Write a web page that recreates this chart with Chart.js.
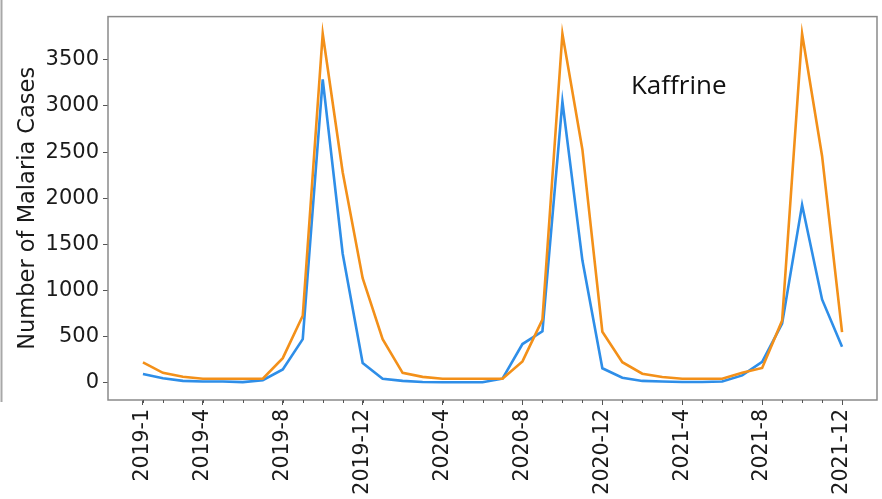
<!DOCTYPE html>
<html>
<head>
<meta charset="utf-8">
<title>Kaffrine malaria cases</title>
<script src="https://cdn.jsdelivr.net/npm/chart.js@4/dist/chart.umd.min.js"></script>
<style>
    html, body { margin: 0; padding: 0; background: #fff; }
    #wrap { position: relative; width: 882px; height: 499px; }
</style>
</head>
<body>
<div id="wrap"><canvas id="casesChart"></canvas></div>
<script>
// Monthly periods, Jan 2019 - Dec 2021
const months = [
    '2019-1', '2019-2', '2019-3', '2019-4', '2019-5', '2019-6',
    '2019-7', '2019-8', '2019-9', '2019-10', '2019-11', '2019-12',
    '2020-1', '2020-2', '2020-3', '2020-4', '2020-5', '2020-6',
    '2020-7', '2020-8', '2020-9', '2020-10', '2020-11', '2020-12',
    '2021-1', '2021-2', '2021-3', '2021-4', '2021-5', '2021-6',
    '2021-7', '2021-8', '2021-9', '2021-10', '2021-11', '2021-12'
];

// Case counts per month
const blueCases = [
    92, 46, 18, 11, 11, 5, 25, 142, 471, 3288, 1397, 212,
    42, 18, 7, 4, 3, 3, 42, 418, 556, 3048, 1326, 155,
    53, 18, 11, 7, 7, 11, 78, 225, 640, 1927, 902, 389
];
const orangeCases = [
    219, 106, 64, 42, 42, 42, 42, 265, 725, 3783, 2281, 1132,
    471, 106, 62, 42, 42, 42, 42, 230, 683, 3783, 2528, 552,
    221, 96, 60, 42, 42, 42, 106, 159, 672, 3783, 2458, 548
];

// Labelled month positions and y ticks
const xTickIndex = [0, 3, 7, 11, 15, 19, 23, 27, 31, 35];
const yTicks = [0, 500, 1000, 1500, 2000, 2500, 3000, 3500];

const FONT = 'DejaVu Sans';
const TEXT_COLOR = '#1a1a1a';
const SPINE_COLOR = '#8a8a8a';

document.addEventListener('DOMContentLoaded', () => {
    createCasesChart();
});

function toPoints(values) {
    return values.map((v, i) => ({ x: i, y: v }));
}

// Axes box, minor month ticks, region label and the page edge line
const framePlugin = {
    id: 'frame',
    afterDatasetsDraw(chart) {
        const { ctx, chartArea: a, scales } = chart;
        ctx.save();

        ctx.strokeStyle = SPINE_COLOR;
        ctx.lineWidth = 1.5;
        ctx.strokeRect(a.left, a.top, a.right - a.left, a.bottom - a.top);

        // minor ticks on every month
        ctx.lineWidth = 1;
        ctx.strokeStyle = '#555';
        months.forEach((m, i) => {
            const x = Math.round(scales.x.getPixelForValue(i)) + 0.5;
            ctx.beginPath();
            ctx.moveTo(x, a.bottom);
            ctx.lineTo(x, a.bottom + 3);
            ctx.stroke();
        });

        ctx.fillStyle = '#111';
        ctx.font = '26px "Open Sans"';
        ctx.textAlign = 'left';
        ctx.textBaseline = 'alphabetic';
        ctx.fillText('Kaffrine', scales.x.getPixelForValue(24.43), scales.y.getPixelForValue(3126));

        ctx.strokeStyle = '#a8a8a8';
        ctx.lineWidth = 2;
        ctx.beginPath();
        ctx.moveTo(1.5, 0);
        ctx.lineTo(1.5, 402);
        ctx.stroke();

        ctx.restore();
    }
};

function createCasesChart() {
    const ctx = document.getElementById('casesChart')?.getContext('2d');
    if (!ctx) return;

    new Chart(ctx, {
        type: 'line',
        data: {
            datasets: [
                {
                    data: toPoints(orangeCases),
                    borderColor: '#f39019',
                    borderWidth: 2.6,
                    pointRadius: 0,
                    tension: 0,
                    fill: false
                },
                {
                    data: toPoints(blueCases),
                    borderColor: '#2e8ee8',
                    borderWidth: 2.6,
                    pointRadius: 0,
                    tension: 0,
                    fill: false
                }
            ]
        },
        options: {
            responsive: true,
            maintainAspectRatio: false,
            animation: false,
            layout: {
                padding: { top: 8, right: 5, left: 0, bottom: 0 }
            },
            plugins: {
                legend: { display: false },
                tooltip: { enabled: false }
            },
            scales: {
                x: {
                    type: 'linear',
                    min: -1.75,
                    max: 36.75,
                    afterBuildTicks: scale => {
                        scale.ticks = xTickIndex.map(v => ({ value: v }));
                    },
                    afterFit: scale => {
                        scale.height = 99;
                    },
                    grid: {
                        display: true,
                        drawOnChartArea: false,
                        tickLength: 5,
                        tickColor: '#555'
                    },
                    border: { display: false },
                    ticks: {
                        minRotation: 90,
                        maxRotation: 90,
                        padding: 4,
                        color: TEXT_COLOR,
                        font: { family: FONT, size: 20.5 },
                        callback: value => months[value] ?? ''
                    }
                },
                y: {
                    type: 'linear',
                    min: -189,
                    max: 3969,
                    afterBuildTicks: scale => {
                        scale.ticks = yTicks.map(v => ({ value: v }));
                    },
                    afterFit: scale => {
                        scale.width = 108;
                    },
                    grid: {
                        display: true,
                        drawOnChartArea: false,
                        tickLength: 5,
                        tickColor: '#555'
                    },
                    border: { display: false },
                    ticks: {
                        padding: 4,
                        color: TEXT_COLOR,
                        font: { family: FONT, size: 21 },
                        callback: value => String(value)
                    },
                    title: {
                        display: true,
                        text: 'Number of Malaria Cases',
                        color: TEXT_COLOR,
                        font: { family: FONT, size: 22.5 },
                        padding: { top: 15, bottom: 0 }
                    }
                }
            }
        },
        plugins: [framePlugin]
    });
}
</script>
</body>
</html>
